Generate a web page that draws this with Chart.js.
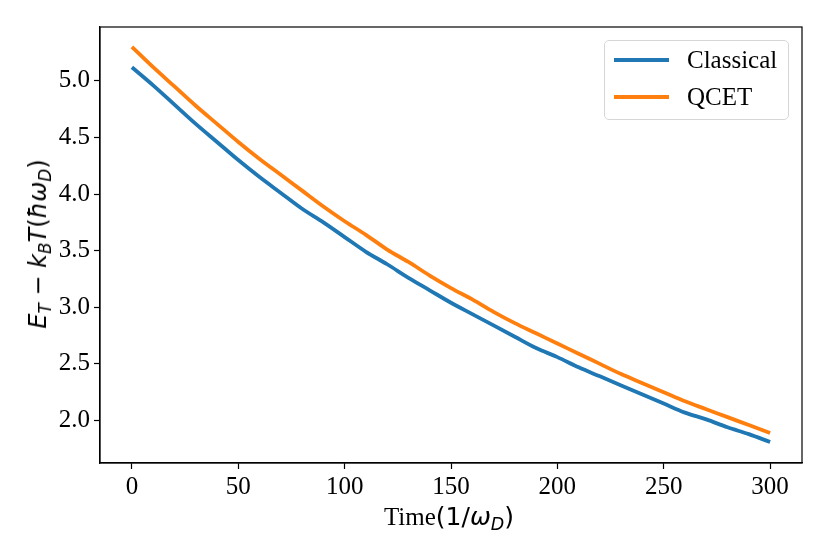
<!DOCTYPE html>
<html>
<head>
<meta charset="utf-8">
<script src="https://cdn.jsdelivr.net/npm/chart.js@4.4.0/dist/chart.umd.min.js"></script>
<style>
  body { margin: 0; background: #fff; }
  #wrap { position: relative; width: 830px; height: 554px; }
  .math { font-family: "DejaVu Sans", sans-serif; }
  .math sub { font-size: 0.7em; vertical-align: -0.3em; line-height: 0; }
  #y-title {
    position: absolute; left: 38px; top: 244px;
    transform: translate(-50%, -50%) rotate(-90deg);
    white-space: nowrap; font-size: 24px; color: #000;
  }
  #x-title {
    position: absolute; left: 449px; top: 516px;
    transform: translate(-50%, -50%);
    white-space: nowrap; font-size: 25px; color: #000;
    font-family: "Liberation Serif", "Times New Roman", serif;
  }
  #legend {
    position: absolute; left: 604px; top: 40px; width: 183px; height: 78px;
    border: 1px solid #d6d6d6; border-radius: 5px; background: rgba(255,255,255,0.8);
    font-family: "Liberation Serif", "Times New Roman", serif; font-size: 25px; color: #000;
  }
  .legend-row { position: absolute; left: 0; height: 30px; width: 100%; }
  .legend-line { position: absolute; left: 9px; top: 13px; width: 55px; height: 4px; }
  .legend-text { position: absolute; left: 82px; top: 0; line-height: 30px; }
</style>
</head>
<body>
<div id="wrap">
  <canvas id="energyChart" width="830" height="554"></canvas>
  <div id="y-title" class="math"><i>E</i><sub><i>T</i></sub> − <i>k</i><sub><i>B</i></sub><i>T</i>(<i>ħω</i><sub><i>D</i></sub>)</div>
  <div id="x-title">Time<span class="math">(1/<i>ω</i><sub><i>D</i></sub>)</span></div>
  <div id="legend"></div>
</div>
<script>
// time axis (units of 1/omega_D)
const timeSteps = [0, 10, 20, 30, 40, 50, 60, 70, 80, 90, 100, 110, 120, 130, 140, 150,
  160, 170, 180, 190, 200, 210, 220, 230, 240, 250, 260, 270, 280, 290, 300];

const classicalEnergy = [5.12, 4.96, 4.79, 4.62, 4.46, 4.30, 4.15, 4.01, 3.87, 3.75, 3.62,
  3.49, 3.38, 3.26, 3.15, 3.04, 2.94, 2.84, 2.74, 2.64, 2.56, 2.47, 2.39, 2.31, 2.23,
  2.15, 2.07, 2.01, 1.94, 1.88, 1.81];

const qcetEnergy = [5.30, 5.12, 4.95, 4.78, 4.62, 4.46, 4.31, 4.17, 4.03, 3.89, 3.76,
  3.64, 3.51, 3.40, 3.28, 3.17, 3.07, 2.96, 2.86, 2.77, 2.68, 2.59, 2.50, 2.41, 2.33,
  2.25, 2.17, 2.10, 2.03, 1.96, 1.89];

const seriesNames = ['Classical', 'QCET'];
const seriesColors = ['#1f77b4', '#ff7f0e'];

const xTicks = [0, 50, 100, 150, 200, 250, 300];
const yTicks = [2.0, 2.5, 3.0, 3.5, 4.0, 4.5, 5.0];

function toPoints(values) {
  return timeSteps.map((t, i) => ({ x: t, y: values[i] }));
}

// draws the box around the plot area, like matplotlib spines
const framePlugin = {
  id: 'frame',
  afterDraw(chart) {
    const { ctx, chartArea } = chart;
    ctx.save();
    ctx.strokeStyle = '#000';
    ctx.lineWidth = 1.2;
    ctx.strokeRect(chartArea.left, chartArea.top, chartArea.right - chartArea.left, chartArea.bottom - chartArea.top);
    ctx.restore();
  }
};

const tickFont = { family: '"Liberation Serif", "Times New Roman", serif', size: 25 };

const ctx = document.getElementById('energyChart').getContext('2d');

const energyChart = new Chart(ctx, {
  type: 'line',
  data: {
    datasets: [
      {
        label: seriesNames[0],
        data: toPoints(classicalEnergy),
        borderColor: seriesColors[0],
        borderWidth: 3.8,
        pointRadius: 0,
        cubicInterpolationMode: 'monotone'
      },
      {
        label: seriesNames[1],
        data: toPoints(qcetEnergy),
        borderColor: seriesColors[1],
        borderWidth: 3.8,
        pointRadius: 0,
        cubicInterpolationMode: 'monotone'
      }
    ]
  },
  options: {
    responsive: false,
    animation: false,
    layout: { padding: { top: 27, right: 28, left: 0, bottom: 0 } },
    plugins: {
      legend: { display: false },
      tooltip: { enabled: false }
    },
    scales: {
      x: {
        type: 'linear',
        min: -15,
        max: 315,
        afterBuildTicks: axis => { axis.ticks = xTicks.map(v => ({ value: v })); },
        afterFit: scale => { scale.height = 91; },
        ticks: { font: tickFont, color: '#000', padding: 3, maxRotation: 0 },
        grid: { drawOnChartArea: false, drawTicks: true, tickLength: 6, tickColor: '#000', tickWidth: 1.2 },
        border: { display: true, color: '#000', width: 1.2 }
      },
      y: {
        type: 'linear',
        min: 1.625,
        max: 5.475,
        afterBuildTicks: axis => { axis.ticks = yTicks.map(v => ({ value: v })); },
        afterFit: scale => { scale.width = 100; },
        ticks: { font: tickFont, color: '#000', padding: 4, callback: v => v.toFixed(1) },
        grid: { drawOnChartArea: false, drawTicks: true, tickLength: 6, tickColor: '#000', tickWidth: 1.2 },
        border: { display: true, color: '#000', width: 1.2 }
      }
    }
  },
  plugins: [framePlugin]
});

// legend box in the upper right corner
const legend = document.getElementById('legend');
seriesNames.forEach((name, i) => {
  const row = document.createElement('div');
  row.className = 'legend-row';
  row.style.top = (4 + i * 37) + 'px';
  row.innerHTML = `
    <div class="legend-line" style="background:${seriesColors[i]}"></div>
    <div class="legend-text">${name}</div>
  `;
  legend.appendChild(row);
});
</script>
</body>
</html>
